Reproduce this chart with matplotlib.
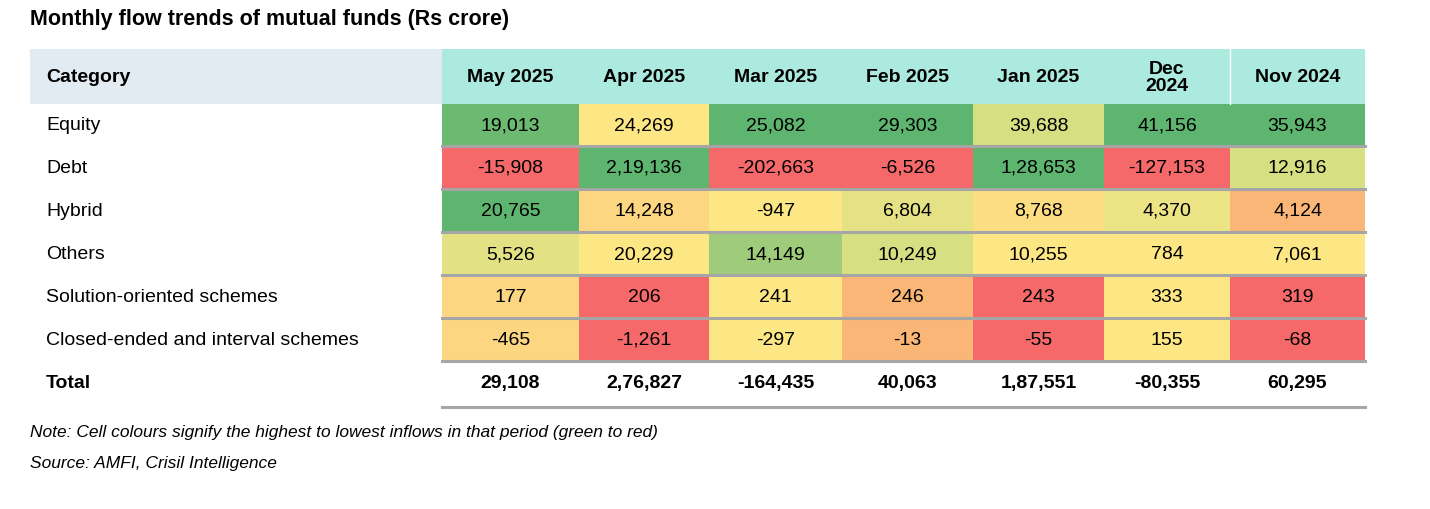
import matplotlib.pyplot as plt
from matplotlib.patches import Rectangle

plt.rcParams['font.family'] = ['Liberation Sans', 'DejaVu Sans']

months = ["May 2025", "Apr 2025", "Mar 2025", "Feb 2025", "Jan 2025", "Dec\n2024", "Nov 2024"]
categories = ["Equity", "Debt", "Hybrid", "Others", "Solution-oriented schemes",
              "Closed-ended and interval schemes"]
values = [
    ["19,013", "24,269", "25,082", "29,303", "39,688", "41,156", "35,943"],
    ["-15,908", "2,19,136", "-202,663", "-6,526", "1,28,653", "-127,153", "12,916"],
    ["20,765", "14,248", "-947", "6,804", "8,768", "4,370", "4,124"],
    ["5,526", "20,229", "14,149", "10,249", "10,255", "784", "7,061"],
    ["177", "206", "241", "246", "243", "333", "319"],
    ["-465", "-1,261", "-297", "-13", "-55", "155", "-68"],
]
totals = ["29,108", "2,76,827", "-164,435", "40,063", "1,87,551", "-80,355", "60,295"]

G, G2, LG, YG, Y, LO, O, R = ("#5db56f", "#6cba72", "#9fcc7b", "#d6df82", "#fde784",
                              "#fdd681", "#f9b677", "#f5696a")
colors = [
    [G2, Y, G, G, YG, G, G],
    [R, G, R, R, G, R, YG],
    [G, LO, Y, "#e4e285", "#fddd82", "#ece385", O],
    ["#e2e285", Y, LG, YG, Y, Y, Y],
    [LO, R, Y, O, R, Y, R],
    [LO, R, Y, O, R, Y, R],
]

col_x = [442, 579, 709, 842, 973, 1104, 1230, 1365]
row_y = [105, 147, 190, 233, 276, 319, 362]
cat_x0 = 30
fs = 14

fig = plt.figure(figsize=(14.3, 5.1), dpi=100)
ax = fig.add_axes([0, 0, 1, 1])
ax.set_xlim(0, 1430)
ax.set_ylim(510, 0)
ax.axis("off")

ax.text(30, 20, "Monthly flow trends of mutual funds (Rs crore)", fontsize=15.5,
        fontweight="bold", va="center", ha="left")

# header
ax.add_patch(Rectangle((cat_x0, 50), col_x[0] - cat_x0, 55, color="#e3ebf2", lw=0))
ax.add_patch(Rectangle((col_x[0], 50), col_x[-1] - col_x[0], 55, color="#ace9de", lw=0))
ax.text(46, 78, "Category", fontsize=fs, fontweight="bold", va="center")
for j, m in enumerate(months):
    cx = (col_x[j] + col_x[j + 1]) / 2
    ax.text(cx, 78, m, fontsize=fs, fontweight="bold", ha="center", va="center",
            linespacing=1.0)
ax.plot([col_x[-2], col_x[-2]], [50, 105], color="white", lw=1)

# body
for i, cat in enumerate(categories):
    y0, y1 = row_y[i], row_y[i + 1]
    cy = (y0 + y1) / 2
    ax.text(46, cy, cat, fontsize=fs, va="center")
    for j, v in enumerate(values[i]):
        ax.add_patch(Rectangle((col_x[j], y0), col_x[j + 1] - col_x[j], y1 - y0,
                               color=colors[i][j], lw=0))
        ax.text((col_x[j] + col_x[j + 1]) / 2, cy, v, fontsize=fs,
                ha="center", va="center")
    ax.plot([col_x[0], col_x[-1]], [y1, y1], color="#a6a6a6", lw=2.2)

# total
ty = 384
ax.text(46, ty, "Total", fontsize=fs, fontweight="bold", va="center")
for j, v in enumerate(totals):
    ax.text((col_x[j] + col_x[j + 1]) / 2, ty, v, fontsize=fs, fontweight="bold",
            ha="center", va="center")
ax.plot([col_x[0], col_x[-1]], [408, 408], color="#a6a6a6", lw=2.2)

ax.text(30, 433, "Note: Cell colours signify the highest to lowest inflows in that period (green to red)",
        fontsize=12.5, style="italic", va="center")
ax.text(30, 464, "Source: AMFI, Crisil Intelligence", fontsize=12.5, style="italic", va="center")

fig.savefig("out.png", dpi=100)
